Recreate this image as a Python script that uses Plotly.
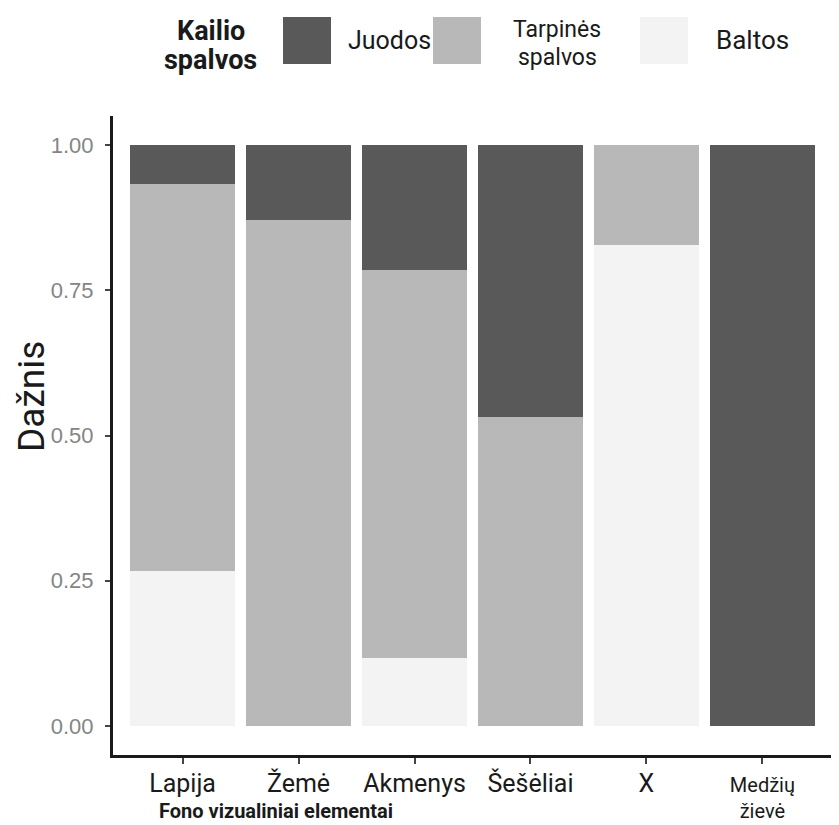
import plotly.graph_objects as go

# data
categories = ["Lapija", "Žemė", "Akmenys", "Šešėliai", "X", "Medžių žievė"]
tick_labels = ["Lapija", "Žemė", "Akmenys", "Šešėliai", "X", "Medžių<br>žievė"]
baltos = [0.267, 0.0, 0.117, 0.0, 0.828, 0.0]
tarpines = [0.666, 0.871, 0.668, 0.532, 0.172, 0.0]
juodos = [0.067, 0.129, 0.215, 0.468, 0.0, 1.0]
y_ticks = [0.0, 0.25, 0.50, 0.75, 1.00]

series = [
    ("Baltos", baltos, "#f3f3f3"),
    ("Tarpinės spalvos", tarpines, "#b8b8b8"),
    ("Juodos", juodos, "#595959"),
]

# the page body adds an 8px margin around the figure
OFF = 8
W, H = 839 - OFF, 825 - OFF
L, R, T, B = 113 - OFF, 7, 116 - OFF, 70
PW, PH = W - L - R, H - T - B


def px(x):
    return (x - OFF - L) / PW


def py(y):
    return (H - B - (y - OFF)) / PH


FONT = "Roboto, sans-serif"
INK = "#1a1a1a"


def label(text, x, y, size, bold=False, angle=0):
    if bold:
        text = "<b>" + text + "</b>"
    return dict(text=text, xref="paper", yref="paper", x=px(x), y=py(y),
                showarrow=False, xanchor="center", yanchor="middle",
                textangle=angle, font=dict(family=FONT, size=size, color=INK))


# single-line labels are bigger than the two-line one
tick_text = [t if "<br>" in t else "<span style='font-size:25px'>" + t + "</span>"
             for t in tick_labels]

fig = go.Figure()
for name, vals, color in series:
    fig.add_trace(go.Bar(
        x=categories, y=vals, name=name,
        marker=dict(color=color, line=dict(width=0)),
        showlegend=False,
    ))

# hand-made legend (large keys like ggplot)
legend_keys = [("#595959", 283), ("#b8b8b8", 433), ("#f3f3f3", 640)]
shapes = []
for color, kx in legend_keys:
    shapes.append(dict(type="rect", xref="paper", yref="paper",
                       x0=px(kx), x1=px(kx + 48), y0=py(64), y1=py(17),
                       fillcolor=color, line=dict(width=0), layer="above"))

annotations = [
    label("Kailio", 211, 31, 27, bold=True),
    label("spalvos", 210, 60, 27, bold=True),
    label("Juodos", 389, 40, 25),
    label("Tarpinės", 557, 29, 23),
    label("spalvos", 557, 57, 23),
    label("Baltos", 752, 40, 26),
    label("Fono vizualiniai elementai", 276, 811, 20, bold=True),
    label("Dažnis", 31, 397, 37, angle=-90),
]

fig.update_layout(
    width=W, height=H,
    barmode="stack", bargap=0.1,
    margin=dict(l=L, r=R, t=T, b=B, autoexpand=False),
    paper_bgcolor="white", plot_bgcolor="white",
    shapes=shapes, annotations=annotations,
    showlegend=False,
)
fig.update_xaxes(
    range=[-0.6, 5.6], tickmode="array", tickvals=categories, ticktext=tick_text,
    showline=True, linecolor=INK, linewidth=3, automargin=False,
    ticks="outside", ticklen=6, tickwidth=2, tickcolor="#444444",
    tickfont=dict(family=FONT, size=20, color=INK),
    showgrid=False, zeroline=False, ticklabelstandoff=4,
)
fig.update_yaxes(
    range=[-0.05, 1.05], tickmode="array", tickvals=y_ticks, tickformat=".2f",
    showline=True, linecolor=INK, linewidth=3, automargin=False,
    ticks="outside", ticklen=5, tickwidth=2, tickcolor="#444444",
    tickfont=dict(family="Liberation Sans, Arial, sans-serif", size=22, color="#858585"),
    showgrid=False, zeroline=False, ticklabelstandoff=7,
)

fig.write_html("out.html")
